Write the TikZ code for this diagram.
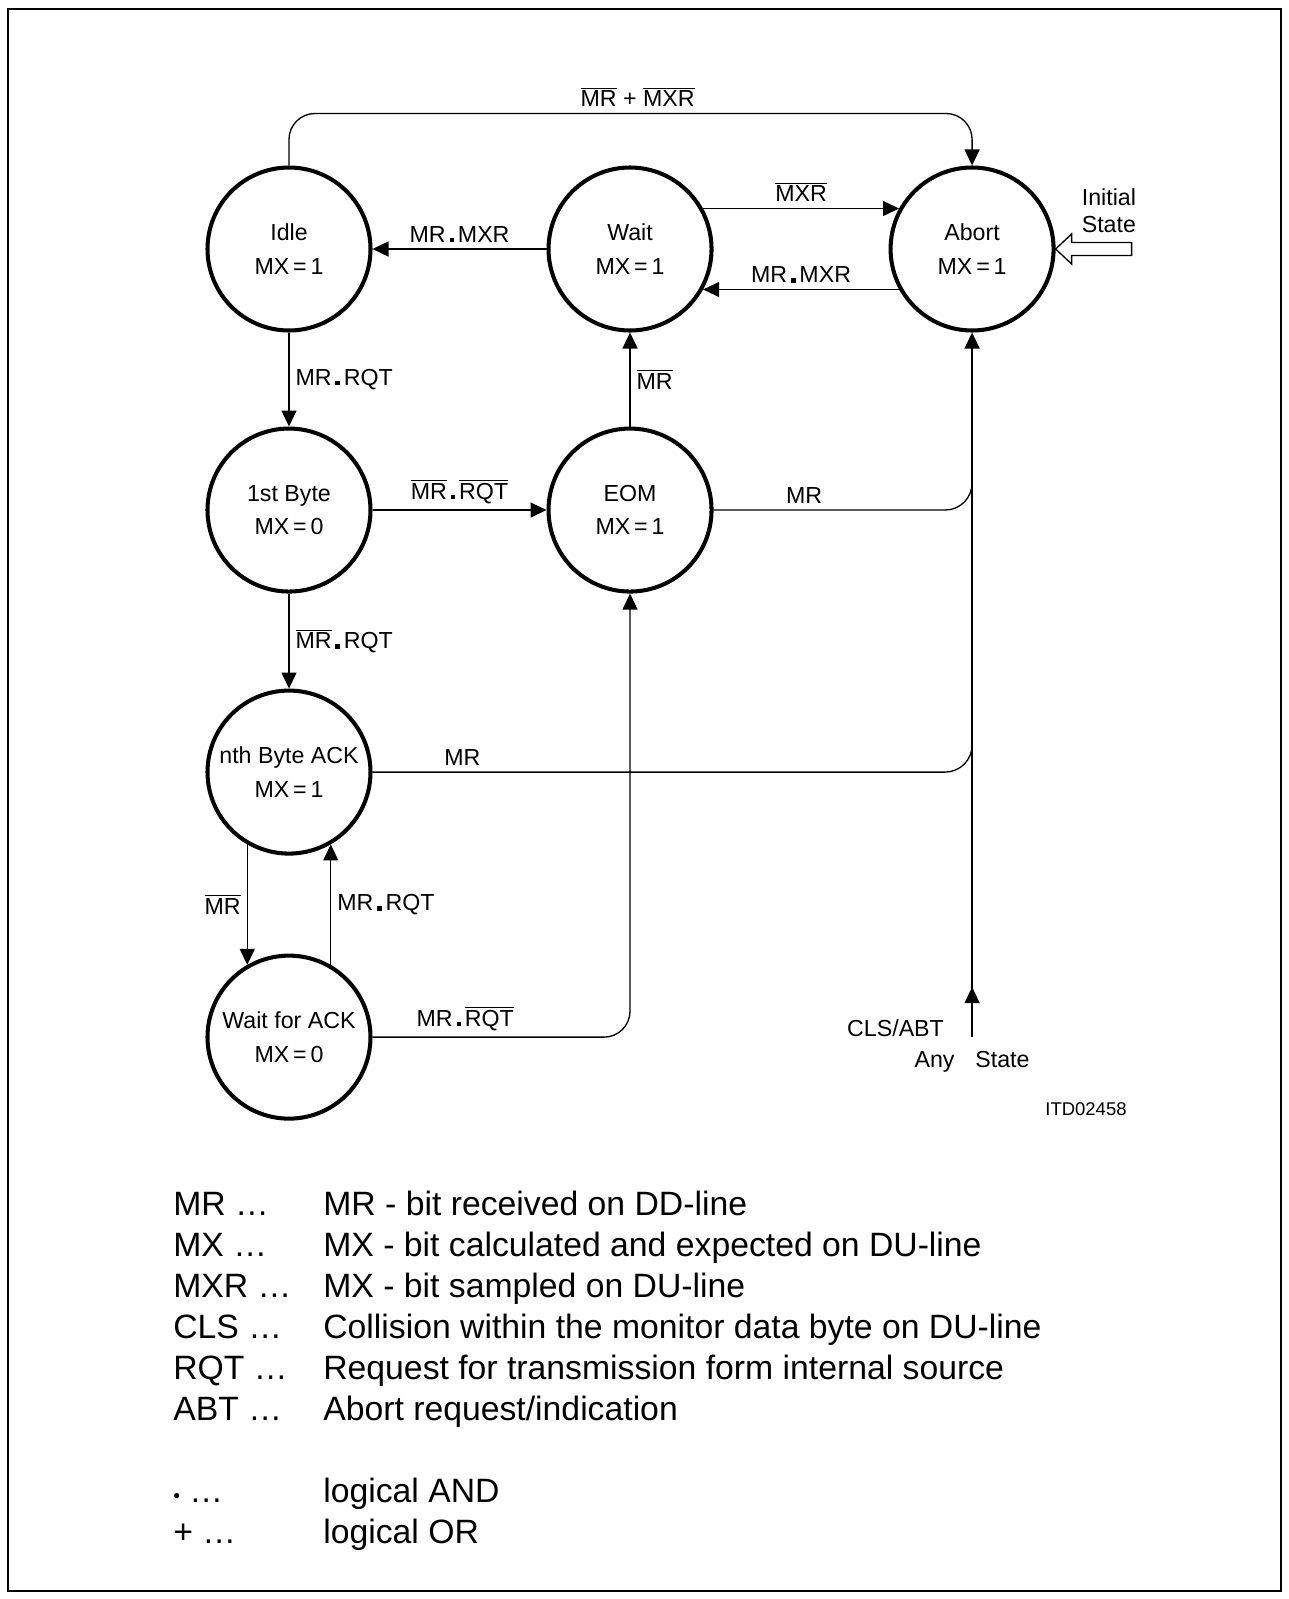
\documentclass[tikz,border=0pt]{standalone}
\usepackage{amsmath}
\usepackage{fontspec}
\setmainfont{Liberation Sans}
\newfontfamily\cadfont{Liberation Sans}
\usetikzlibrary{arrows.meta,positioning,calc}
\newcommand{\nb}[1]{$\overline{\mbox{#1}}$}
\newcommand{\andd}{\,\rule{2.6pt}{2.6pt}\,}
\tikzset{
  state/.style={circle, draw, line width=2.3pt, minimum size=3.26cm, inner sep=0pt, align=center, font=\cadfont\fontsize{13.2}{19}\selectfont},
  arr/.style={-{Triangle[length=0.32cm, width=0.3cm]}, line width=0.75pt},
  wire/.style={line width=0.75pt, rounded corners=0.54cm},
  lbl/.style={font=\cadfont\fontsize{13.2}{16}\selectfont},
  legend/.style={font=\fontsize{19.2}{23}\selectfont, anchor=base west, inner sep=0pt}
}
\begin{document}
\begin{tikzpicture}[node distance=1.88cm and 3.48cm]
\useasboundingbox (0,0) rectangle (25.78,-31.98);
\draw[line width=1.2pt] (0.16,-0.18) rectangle (25.62,-31.82);
\node[state] (idle) at (5.78,-4.98) {Idle\\MX\,=\,1};
\node[state, right=of idle] (wait) {Wait\\MX\,=\,1};
\node[state, right=3.50cm of wait] (abort) {Abort\\MX\,=\,1};
\node[state, below=of idle] (first) {1st Byte\\MX\,=\,0};
\node[state, right=of first] (eom) {EOM\\MX\,=\,1};
\node[state, below=1.90cm of first] (nth) {nth Byte ACK\\MX\,=\,1};
\node[state, below=1.96cm of nth] (wack) {Wait for ACK\\MX\,=\,0};
\coordinate (top) at ($(idle.north)+(0,1.04)$);
\draw[arr, rounded corners=0.52cm] (idle.north) -- (idle.north |- top) -- node[lbl, above, xshift=0.14cm]{\nb{MR} + \nb{MXR}} (abort.north |- top) -- (abort.north);
\draw[arr] (wait.29) -- node[lbl, above]{\nb{MXR}} (abort.151);
\draw[arr] (abort.209) -- node[lbl, above]{MR\andd MXR} (wait.331);
\draw[arr] (wait.west) -- node[lbl, above]{MR\andd MXR} (idle.east);
\draw[arr] (idle.south) -- node[lbl, right]{MR\andd RQT} (first.north);
\draw[arr] (eom.north) -- node[lbl, right]{\nb{MR}} (wait.south);
\draw[arr] (first.east) -- node[lbl, above]{\nb{MR}\andd\nb{RQT}} (eom.west);
\draw[arr] (first.south) -- node[lbl, right]{\nb{MR}\andd RQT} (nth.north);
\draw[arr] (nth.240) -- node[lbl, left]{\nb{MR}} (wack.120);
\draw[arr] (wack.60) -- node[lbl, right]{MR\andd RQT} (nth.300);
\draw[wire] (eom.east) -- node[lbl, pos=0.35, above]{MR} (eom.east -| abort.south) -- ++(0,1.2);
\draw[wire] (nth.east) -- node[lbl, pos=0.15, above]{MR} (nth.east -| abort.south) -- ++(0,1.2);
\draw[arr, rounded corners=0.52cm] (wack.east) -- node[lbl, pos=0.36, above]{MR\andd\nb{RQT}} (wack.east -| eom.south) -- (eom.south);
% any state entry
\coordinate (any) at (abort.south |- 0,-20.74);
\draw[arr] (any) -- (abort.south);
\draw[arr] (any) -- ++(0,1.0);
\node[lbl, anchor=east] (cls) at ([xshift=-0.44cm, yshift=0.18cm]any) {CLS/ABT};
\node[lbl] (anystate) at ([yshift=-0.5cm]any) {Any\hspace{0.9em}State};
\node[lbl, font=\cadfont\fontsize{10.5}{12}\selectfont] (itd) at (21.72,-22.18) {ITD02458};
% initial state
\draw[line width=0.75pt] (abort.east) -- ++(0.32,0.3) -- ++(0,-0.17) -- ++(1.2,0) -- ++(0,-0.26) -- ++(-1.2,0) -- ++(0,-0.17) -- cycle;
\node[lbl, anchor=west, align=left, font=\cadfont\fontsize{13.2}{15.3}\selectfont] (init) at ([xshift=0.4cm, yshift=0.76cm]abort.east) {Initial\\State};
% legend
\foreach \i/\k/\d in {0/MR …/{MR - bit received on DD-line}, 1/MX …/{MX - bit calculated and expected on DU-line}, 2/MXR …/{MX - bit sampled on DU-line}, 3/CLS …/{Collision within the monitor data byte on DU-line}, 4/RQT …/{Request for transmission form internal source}, 5/ABT …/{Abort request/indication}, 7/{{\fontsize{11}{12}\selectfont •} …}/{logical AND}, 8/+ …/{logical OR}}{
  \node[legend] (key\i) at (3.46,-24.30-0.82*\i) {\k};
  \node[legend] (desc\i) at (6.46,-24.30-0.82*\i) {\d};
}
\end{tikzpicture}
\end{document}
